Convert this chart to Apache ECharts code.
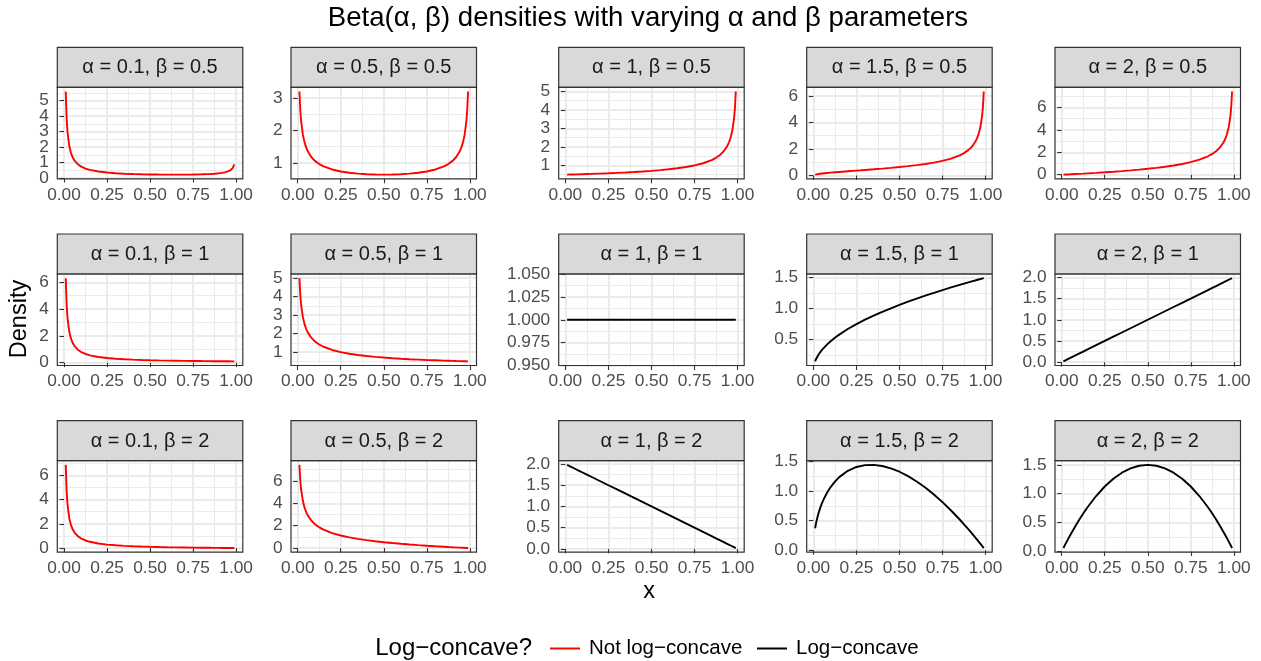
<!DOCTYPE html>
<html><head><meta charset="utf-8">
<script src="https://cdn.jsdelivr.net/npm/echarts@6/dist/echarts.min.js"></script>
<style>html,body{margin:0;padding:0;background:#fff}#c{width:1261px;height:661px}</style>
</head><body><div id="c"></div>
<script>
// ---------- data ----------
const xValues = [0.01, 0.015, 0.02, 0.03, 0.04, 0.05, 0.06, 0.08, 0.1, 0.125, 0.15, 0.2, 0.25, 0.3, 0.35, 0.4, 0.45, 0.5, 0.55, 0.6, 0.65, 0.7, 0.75, 0.8, 0.85, 0.875, 0.9, 0.92, 0.94, 0.95, 0.96, 0.97, 0.98, 0.985, 0.99];
const alphaValues = ['0.1', '0.5', '1', '1.5', '2'];
const betaValues = ['0.5', '1', '2'];
const xTickValues = [0, 0.25, 0.5, 0.75, 1];
const xTickLabels = ['0.00', '0.25', '0.50', '0.75', '1.00'];
const xMinorValues = [0.125, 0.375, 0.625, 0.875];

const dens_a01_b05 = [5.600, 3.898, 3.016, 2.105, 1.633, 1.343, 1.146, 0.894, 0.739, 0.614, 0.528, 0.420, 0.355, 0.312, 0.282, 0.260, 0.244, 0.233, 0.226, 0.221, 0.220, 0.222, 0.229, 0.241, 0.264, 0.282, 0.307, 0.337, 0.381, 0.414, 0.458, 0.524, 0.636, 0.731, 0.891];
const dens_a05_b05 = [3.199, 2.619, 2.274, 1.866, 1.624, 1.461, 1.340, 1.173, 1.061, 0.963, 0.892, 0.796, 0.735, 0.695, 0.667, 0.650, 0.640, 0.637, 0.640, 0.650, 0.667, 0.695, 0.735, 0.796, 0.892, 0.963, 1.061, 1.173, 1.340, 1.461, 1.624, 1.866, 2.274, 2.619, 3.199];
const dens_a1_b05 = [0.503, 0.504, 0.505, 0.508, 0.510, 0.513, 0.516, 0.521, 0.527, 0.535, 0.542, 0.559, 0.577, 0.598, 0.620, 0.645, 0.674, 0.707, 0.745, 0.791, 0.845, 0.913, 1.000, 1.118, 1.291, 1.414, 1.581, 1.768, 2.041, 2.236, 2.500, 2.887, 3.536, 4.082, 5.000];
const dens_a15_b05 = [0.064, 0.079, 0.091, 0.112, 0.130, 0.146, 0.161, 0.188, 0.212, 0.241, 0.267, 0.318, 0.368, 0.417, 0.467, 0.520, 0.576, 0.637, 0.704, 0.780, 0.868, 0.972, 1.103, 1.273, 1.515, 1.684, 1.910, 2.159, 2.520, 2.775, 3.119, 3.630, 4.456, 5.159, 6.334];
const dens_a2_b05 = [0.008, 0.011, 0.015, 0.023, 0.031, 0.038, 0.046, 0.063, 0.079, 0.100, 0.122, 0.168, 0.217, 0.269, 0.326, 0.387, 0.455, 0.530, 0.615, 0.712, 0.824, 0.959, 1.125, 1.342, 1.646, 1.856, 2.135, 2.440, 2.878, 3.186, 3.600, 4.200, 5.197, 6.032, 7.425];
const dens_a01_b1 = [6.310, 4.380, 3.381, 2.347, 1.812, 1.482, 1.258, 0.971, 0.794, 0.650, 0.551, 0.426, 0.348, 0.296, 0.257, 0.228, 0.205, 0.187, 0.171, 0.158, 0.147, 0.138, 0.130, 0.122, 0.116, 0.113, 0.110, 0.108, 0.106, 0.105, 0.104, 0.103, 0.102, 0.101, 0.101];
const dens_a05_b1 = [5.000, 4.082, 3.536, 2.887, 2.500, 2.236, 2.041, 1.768, 1.581, 1.414, 1.291, 1.118, 1.000, 0.913, 0.845, 0.791, 0.745, 0.707, 0.674, 0.645, 0.620, 0.598, 0.577, 0.559, 0.542, 0.535, 0.527, 0.521, 0.516, 0.513, 0.510, 0.508, 0.505, 0.504, 0.503];
const dens_a1_b1 = [1, 1, 1, 1, 1, 1, 1, 1, 1, 1, 1, 1, 1, 1, 1, 1, 1, 1, 1, 1, 1, 1, 1, 1, 1, 1, 1, 1, 1, 1, 1, 1, 1, 1, 1];
const dens_a15_b1 = [0.150, 0.184, 0.212, 0.260, 0.300, 0.335, 0.367, 0.424, 0.474, 0.530, 0.581, 0.671, 0.750, 0.822, 0.887, 0.949, 1.006, 1.061, 1.112, 1.162, 1.209, 1.255, 1.299, 1.342, 1.383, 1.403, 1.423, 1.439, 1.454, 1.462, 1.470, 1.477, 1.485, 1.489, 1.492];
const dens_a2_b1 = [0.02, 0.03, 0.04, 0.06, 0.08, 0.10, 0.12, 0.16, 0.20, 0.25, 0.30, 0.40, 0.50, 0.60, 0.70, 0.80, 0.90, 1.00, 1.10, 1.20, 1.30, 1.40, 1.50, 1.60, 1.70, 1.75, 1.80, 1.84, 1.88, 1.90, 1.92, 1.94, 1.96, 1.97, 1.98];
const dens_a01_b2 = [6.871, 4.746, 3.645, 2.505, 1.913, 1.549, 1.301, 0.983, 0.786, 0.625, 0.516, 0.375, 0.287, 0.228, 0.184, 0.151, 0.124, 0.103, 0.085, 0.070, 0.057, 0.046, 0.036, 0.027, 0.019, 0.016, 0.012, 0.009, 0.007, 0.006, 0.005, 0.003, 0.002, 0.002, 0.001];
const dens_a05_b2 = [7.425, 6.032, 5.197, 4.200, 3.600, 3.186, 2.878, 2.440, 2.135, 1.856, 1.646, 1.342, 1.125, 0.959, 0.824, 0.712, 0.615, 0.530, 0.455, 0.387, 0.326, 0.269, 0.217, 0.168, 0.122, 0.100, 0.079, 0.063, 0.046, 0.038, 0.031, 0.023, 0.015, 0.011, 0.008];
const dens_a1_b2 = [1.98, 1.97, 1.96, 1.94, 1.92, 1.90, 1.88, 1.84, 1.80, 1.75, 1.70, 1.60, 1.50, 1.40, 1.30, 1.20, 1.10, 1.00, 0.90, 0.80, 0.70, 0.60, 0.50, 0.40, 0.30, 0.25, 0.20, 0.16, 0.12, 0.10, 0.08, 0.06, 0.04, 0.03, 0.02];
const dens_a15_b2 = [0.371, 0.452, 0.520, 0.630, 0.720, 0.797, 0.863, 0.976, 1.067, 1.160, 1.235, 1.342, 1.406, 1.438, 1.442, 1.423, 1.384, 1.326, 1.251, 1.162, 1.058, 0.941, 0.812, 0.671, 0.519, 0.438, 0.356, 0.288, 0.218, 0.183, 0.147, 0.111, 0.074, 0.056, 0.037];
const dens_a2_b2 = [0.059, 0.089, 0.118, 0.175, 0.230, 0.285, 0.338, 0.442, 0.540, 0.656, 0.765, 0.960, 1.125, 1.260, 1.365, 1.440, 1.485, 1.500, 1.485, 1.440, 1.365, 1.260, 1.125, 0.960, 0.765, 0.656, 0.540, 0.442, 0.338, 0.285, 0.230, 0.175, 0.118, 0.089, 0.059];

const yTicks_a01_b05 = ['0', '1', '2', '3', '4', '5'];
const yTicks_a05_b05 = ['1', '2', '3'];
const yTicks_a1_b05 = ['1', '2', '3', '4', '5'];
const yTicks_a15_b05 = ['0', '2', '4', '6'];
const yTicks_a2_b05 = ['0', '2', '4', '6'];
const yTicks_a01_b1 = ['0', '2', '4', '6'];
const yTicks_a05_b1 = ['1', '2', '3', '4', '5'];
const yTicks_a1_b1 = ['0.950', '0.975', '1.000', '1.025', '1.050'];
const yTicks_a15_b1 = ['0.5', '1.0', '1.5'];
const yTicks_a2_b1 = ['0.0', '0.5', '1.0', '1.5', '2.0'];
const yTicks_a01_b2 = ['0', '2', '4', '6'];
const yTicks_a05_b2 = ['0', '2', '4', '6'];
const yTicks_a1_b2 = ['0.0', '0.5', '1.0', '1.5', '2.0'];
const yTicks_a15_b2 = ['0.0', '0.5', '1.0', '1.5'];
const yTicks_a2_b2 = ['0.0', '0.5', '1.0', '1.5'];

const panelDensities = [dens_a01_b05, dens_a05_b05, dens_a1_b05, dens_a15_b05, dens_a2_b05,
  dens_a01_b1, dens_a05_b1, dens_a1_b1, dens_a15_b1, dens_a2_b1,
  dens_a01_b2, dens_a05_b2, dens_a1_b2, dens_a15_b2, dens_a2_b2];
const panelYTicks = [yTicks_a01_b05, yTicks_a05_b05, yTicks_a1_b05, yTicks_a15_b05, yTicks_a2_b05,
  yTicks_a01_b1, yTicks_a05_b1, yTicks_a1_b1, yTicks_a15_b1, yTicks_a2_b1,
  yTicks_a01_b2, yTicks_a05_b2, yTicks_a1_b2, yTicks_a15_b2, yTicks_a2_b2];
const seriesNotLC = 'Not log\u2212concave';
const seriesLC = 'Log\u2212concave';
const logConcaveFlags = [false, false, false, false, false,
  false, false, true, true, true,
  false, false, true, true, true];

// ---------- layout ----------
const FONT = "'Liberation Sans', Arial, Helvetica, sans-serif";
const COL_LEFT = [57.3, 291, 558.7, 806.7, 1055];
const PANEL_W = 185.5;
const STRIP_TOP = [47.3, 234, 420.7];
const STRIP_H = 40;
const PANEL_H = 91.5;
const AXIS_FS = 17.3;
const STRIP_FS = 20;

const grids = [], xAxes = [], yAxes = [], series = [], graphics = [];
const xr = xValues[xValues.length - 1] - xValues[0];
const xMin = xValues[0] - 0.05 * xr, xMax = xValues[xValues.length - 1] + 0.05 * xr;

function pickLabel(v, vals, labels) {
  let best = 0, bd = Infinity;
  vals.forEach((t, k) => { const d = Math.abs(t - v); if (d < bd) { bd = d; best = k; } });
  return labels[best];
}
const yLabelStyle = { show: true, color: '#4D4D4D', fontSize: AXIS_FS, fontFamily: FONT, margin: 8.5, hideOverlap: false, showMinLabel: true, showMaxLabel: true };

for (let r = 0; r < 3; r++) {
  for (let c = 0; c < 5; c++) {
    const i = r * 5 + c;
    const left = COL_LEFT[c];
    const top = STRIP_TOP[r] + STRIP_H;
    grids.push({ left: left, top: top, width: PANEL_W, height: PANEL_H, show: false, containLabel: false, outerBoundsMode: 'none' });
    const ys = panelDensities[i];
    const dmin = Math.min(...ys), dmax = Math.max(...ys);
    const span = dmax - dmin;
    let yMin, yMax;
    if (span === 0) { yMin = dmin * 0.95; yMax = dmax * 1.05; }
    else { yMin = dmin - 0.05 * span; yMax = dmax + 0.05 * span; }
    const tickLabels = panelYTicks[i];
    const tickVals = tickLabels.map(Number);
    const evenVals = tickVals.filter((v, k) => k % 2 === 0);
    const oddVals = tickVals.filter((v, k) => k % 2 === 1);
    const step = tickVals[1] - tickVals[0];
    const ext = [tickVals[0] - step].concat(tickVals, [tickVals[tickVals.length - 1] + step]);
    const minorVals = [];
    for (let k = 0; k < ext.length - 1; k++) {
      const m = (ext[k] + ext[k + 1]) / 2;
      if (m >= yMin && m <= yMax) minorVals.push(m);
    }
    // major x axis
    xAxes.push({
      type: 'value', gridIndex: i, min: xMin, max: xMax, position: 'bottom',
      axisLine: { show: false },
      axisTick: { show: true, customValues: xTickValues, length: 4.5, lineStyle: { color: '#333333', width: 1.1 } },
      axisLabel: { show: true, customValues: xTickValues, formatter: v => pickLabel(v, xTickValues, xTickLabels), color: '#4D4D4D', fontSize: AXIS_FS, fontFamily: FONT, margin: 10, lineHeight: 12, hideOverlap: false, showMinLabel: true, showMaxLabel: true },
      splitLine: { show: true, lineStyle: { color: '#EBEBEB', width: 2 } },
      z: 1
    });
    // minor x axis
    xAxes.push({
      type: 'value', gridIndex: i, min: xMin, max: xMax, position: 'bottom',
      axisLine: { show: false },
      axisTick: { show: true, customValues: xMinorValues, length: 0, lineStyle: { opacity: 0 } },
      axisLabel: { show: false },
      splitLine: { show: true, lineStyle: { color: '#EBEBEB', width: 1 } },
      z: 0
    });
    // major y axis (ticks + major grid + labels at even positions)
    yAxes.push({
      type: 'value', gridIndex: i, min: yMin, max: yMax, position: 'left',
      axisLine: { show: false },
      axisTick: { show: true, customValues: tickVals, length: 4.5, lineStyle: { color: '#333333', width: 1.1 } },
      axisLabel: Object.assign({ customValues: evenVals, formatter: v => pickLabel(v, tickVals, tickLabels) }, yLabelStyle),
      splitLine: { show: true, lineStyle: { color: '#EBEBEB', width: 2 } },
      z: 1
    });
    // minor y axis (minor grid + labels at odd positions)
    yAxes.push({
      type: 'value', gridIndex: i, min: yMin, max: yMax, position: 'left',
      axisLine: { show: false },
      axisTick: { show: true, customValues: minorVals.length ? minorVals : [yMin], length: 0, lineStyle: { opacity: 0 } },
      axisLabel: oddVals.length ? Object.assign({ customValues: oddVals, formatter: v => pickLabel(v, tickVals, tickLabels) }, yLabelStyle) : { show: false },
      splitLine: { show: minorVals.length > 0, lineStyle: { color: '#EBEBEB', width: 1 } },
      z: 0
    });
    const lc = logConcaveFlags[i];
    series.push({
      type: 'line', name: lc ? seriesLC : seriesNotLC,
      xAxisIndex: 2 * i, yAxisIndex: 2 * i,
      data: xValues.map((x, j) => [x, ys[j]]),
      showSymbol: false, symbol: 'none', smooth: false,
      lineStyle: { color: lc ? '#000000' : '#FF0000', width: 1.9 },
      itemStyle: { color: lc ? '#000000' : '#FF0000' },
      z: 5, animation: false
    });
    // strip
    graphics.push({
      type: 'rect', z: 50,
      shape: { x: left, y: STRIP_TOP[r], width: PANEL_W, height: STRIP_H },
      style: { fill: '#D9D9D9', stroke: '#333333', lineWidth: 1.2 }
    });
    graphics.push({
      type: 'text', z: 51, x: left + PANEL_W / 2, y: STRIP_TOP[r] + STRIP_H / 2 + 0.5,
      style: { text: '\u03B1 = ' + alphaValues[c] + ', \u03B2 = ' + betaValues[r], align: 'center', verticalAlign: 'middle', textAlign: 'center', textVerticalAlign: 'middle', fill: '#1A1A1A', fontSize: STRIP_FS, fontFamily: FONT }
    });
    // panel border
    graphics.push({
      type: 'rect', z: 50,
      shape: { x: left, y: top, width: PANEL_W, height: PANEL_H },
      style: { fill: 'none', stroke: '#333333', lineWidth: 1.2 }
    });
  }
}

// titles
graphics.push({ type: 'text', z: 60, x: 648, y: 18,
  style: { text: 'Beta(\u03B1, \u03B2) densities with varying \u03B1 and \u03B2 parameters', align: 'center', verticalAlign: 'middle', textAlign: 'center', textVerticalAlign: 'middle', fill: '#000000', fontSize: 27.6, fontFamily: FONT } });
graphics.push({ type: 'text', z: 60, x: 20, y: 319, rotation: Math.PI / 2,
  style: { text: 'Density', align: 'center', verticalAlign: 'middle', textAlign: 'center', textVerticalAlign: 'middle', fill: '#000000', fontSize: 23.5, fontFamily: FONT } });
graphics.push({ type: 'text', z: 60, x: 649, y: 592,
  style: { text: 'x', align: 'center', verticalAlign: 'middle', textAlign: 'center', textVerticalAlign: 'middle', fill: '#000000', fontSize: 23.5, fontFamily: FONT } });
graphics.push({ type: 'text', z: 60, x: 532, y: 648,
  style: { text: 'Log\u2212concave?', align: 'right', verticalAlign: 'middle', textAlign: 'right', textVerticalAlign: 'middle', fill: '#000000', fontSize: 24, fontFamily: FONT } });

const legendCommon = {
  orient: 'horizontal', top: 638, padding: 0, itemWidth: 30, itemHeight: 2, icon: 'rect',
  textStyle: { fontSize: 20.5, lineHeight: 20, color: '#000000', fontFamily: FONT, padding: [0, 0, 0, 4] },
  selectedMode: false
};

const option = {
  animation: false,
  backgroundColor: '#ffffff',
  textStyle: { fontFamily: FONT },
  grid: grids,
  xAxis: xAxes,
  yAxis: yAxes,
  legend: [
    Object.assign({ left: 550, data: [seriesNotLC] }, legendCommon),
    Object.assign({ left: 757, data: [seriesLC] }, legendCommon)
  ],
  series: series,
  graphic: graphics
};
const chart = echarts.init(document.getElementById('c'), null, { renderer: 'canvas' });
chart.setOption(option);
</script>
</body></html>
